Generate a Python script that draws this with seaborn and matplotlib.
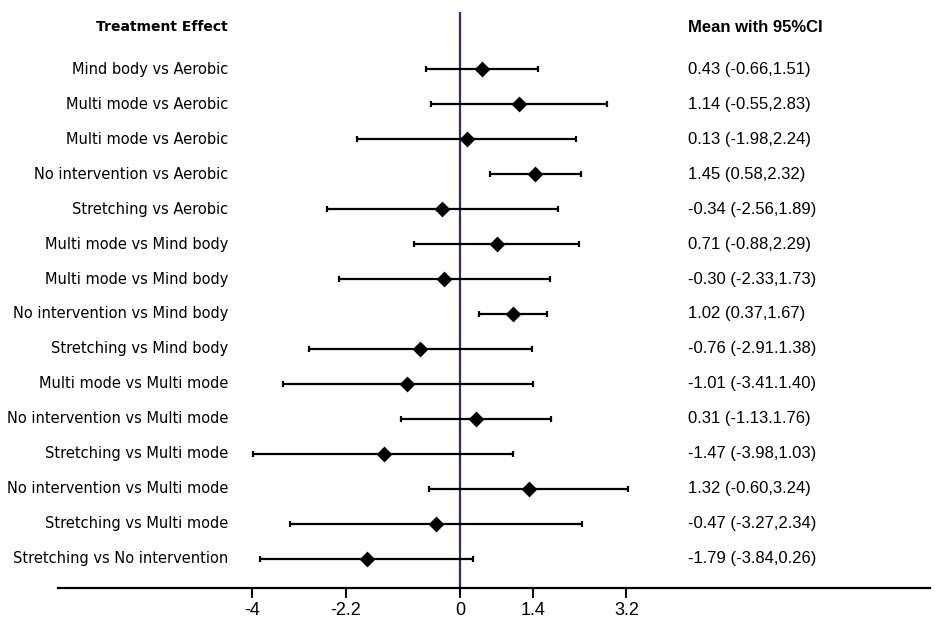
import numpy as np
import pandas as pd
import seaborn as sns
import matplotlib.pyplot as plt

# forest plot data
labels = ["Mind body vs Aerobic", "Multi mode vs Aerobic", "Multi mode vs Aerobic",
          "No intervention vs Aerobic", "Stretching vs Aerobic", "Multi mode vs Mind body",
          "Multi mode vs Mind body", "No intervention vs Mind body", "Stretching vs Mind body",
          "Multi mode vs Multi mode", "No intervention vs Multi mode", "Stretching vs Multi mode",
          "No intervention vs Multi mode", "Stretching vs Multi mode", "Stretching vs No intervention"]
means = [0.43, 1.14, 0.13, 1.45, -0.34, 0.71, -0.30, 1.02, -0.76, -1.01, 0.31, -1.47, 1.32, -0.47, -1.79]
lower = [-0.66, -0.55, -1.98, 0.58, -2.56, -0.88, -2.33, 0.37, -2.91, -3.41, -1.13, -3.98, -0.60, -3.27, -3.84]
upper = [1.51, 2.83, 2.24, 2.32, 1.89, 2.29, 1.73, 1.67, 1.38, 1.40, 1.76, 1.03, 3.24, 2.34, 0.26]
ci_text = ["0.43 (-0.66,1.51)", "1.14 (-0.55,2.83)", "0.13 (-1.98,2.24)", "1.45 (0.58,2.32)",
           "-0.34 (-2.56,1.89)", "0.71 (-0.88,2.29)", "-0.30 (-2.33,1.73)", "1.02 (0.37,1.67)",
           "-0.76 (-2.91.1.38)", "-1.01 (-3.41.1.40)", "0.31 (-1.13.1.76)", "-1.47 (-3.98,1.03)",
           "1.32 (-0.60,3.24)", "-0.47 (-3.27,2.34)", "-1.79 (-3.84,0.26)"]
xticks = [-4, -2.2, 0, 1.4, 3.2]
xticklabels = ["-4", "-2.2", "0", "1.4", "3.2"]

dat = pd.DataFrame({"label": labels, "mean": means, "lower": lower, "upper": upper})
dat["row"] = np.arange(len(dat))

sns.set_theme(style="white")
plt.rcParams['font.family'] = ['DejaVu Sans']
plt.rcParams['text.color'] = 'black'
plt.rcParams['xtick.color'] = 'black'

fig = plt.figure(figsize=(9.36, 6.22), dpi=100)
ax = fig.add_axes([58 / 936, 34 / 622, 872 / 936, 576 / 622])

# zero line
ax.axvline(0, color="#2b2b70", lw=1.6, zorder=1)

# confidence intervals
ax.errorbar(dat["mean"], dat["row"],
            xerr=[dat["mean"] - dat["lower"], dat["upper"] - dat["mean"]],
            fmt="none", ecolor="black", elinewidth=1.6, capsize=2.5, capthick=1.6, zorder=2)

# point estimates
sns.scatterplot(data=dat, x="mean", y="row", marker="D", color="black", s=65,
                edgecolor="black", linewidth=0, ax=ax, zorder=3)

# text columns
for i, row in dat.iterrows():
    ax.text(-4.46, row["row"], row["label"], ha="right", va="center", fontsize=10.5,
            family="DejaVu Sans", color="black")
    ax.text(4.38, row["row"], ci_text[i], ha="left", va="center", fontsize=12,
            family="Liberation Sans", color="black")
ax.text(-4.46, -1.2, "Treatment Effect", ha="right", va="center", fontsize=10,
        fontweight="bold", family="DejaVu Sans", color="black")
ax.text(4.38, -1.2, "Mean with 95%CI", ha="left", va="center", fontsize=12,
        fontweight="semibold", family="Liberation Sans", color="black")

ax.set_xlim(-7.73, 9.04)
ax.set_ylim(14.83, -1.63)
ax.set_xticks(xticks)
ax.set_xticklabels(xticklabels, fontsize=13, family="Liberation Sans", color="black")
ax.set_yticks([])
ax.set_xlabel("")
ax.set_ylabel("")
for side in ["top", "left", "right"]:
    ax.spines[side].set_visible(False)
ax.spines["bottom"].set_color("black")
ax.spines["bottom"].set_linewidth(1.6)
ax.tick_params(axis="x", direction="out", length=7, width=1.4, color="black", bottom=True, pad=3)

plt.savefig("out.png", dpi=100)
